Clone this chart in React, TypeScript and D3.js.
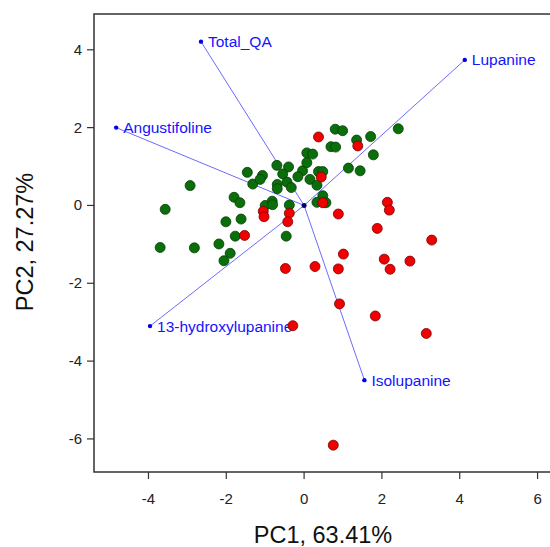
import React, { useEffect, useRef } from "react";
import * as d3 from "d3";

// PCA scores (PC1, PC2)
const greenX = [-2.93, -3.57, -1.8, -1.65, -2.01, -1.62, -1.46, -1.32, -1.07, -1.13, -0.7, -0.4, -0.55, -0.04, -0.16, 0.15, -0.69, -0.69, -0.44, -0.33, 0.33, 0.07, 0.22, 0.07, 0.37, 0.48, 0.48, 0.33, 0.56, -1.0, -0.82, -0.81, -0.38, -0.46, -1.77, -3.7, -2.82, -2.19, -1.9, -2.06, 0.8, 0.99, 1.35, 1.71, 2.42, 0.69, 0.81, 1.78, 1.14, 1.44];
const greenY = [0.51, -0.1, 0.21, 0.07, -0.42, -0.35, 0.85, 0.55, 0.77, 0.67, 1.03, 0.99, 0.81, 0.89, 0.74, 0.67, 0.54, 0.43, 0.6, 0.46, 0.52, 1.35, 1.32, 1.1, 0.87, 0.87, 0.25, 0.08, 0.07, 0.0, 0.11, 0.02, 0.01, -0.79, -0.79, -1.08, -1.09, -0.99, -1.23, -1.42, 1.96, 1.92, 1.68, 1.77, 1.97, 1.51, 1.5, 1.3, 0.96, 0.89];

const redX = [0.37, 1.38, 0.44, 0.48, -1.05, -1.03, -0.38, -0.42, -1.53, 0.88, 2.14, 2.19, 1.88, 3.28, 1.01, 2.06, 2.72, 2.21, -0.48, 0.28, 0.88, 0.91, 1.83, 3.14, -0.29, 0.75];
const redY = [1.76, 1.53, 0.73, 0.07, -0.15, -0.29, -0.2, -0.42, -0.77, -0.22, 0.08, -0.12, -0.59, -0.89, -1.25, -1.38, -1.43, -1.64, -1.62, -1.57, -1.63, -2.53, -2.84, -3.29, -3.09, -6.16];

// loadings (scaled)
const varNames = ["Total_QA", "Angustifoline", "Lupanine", "13-hydroxylupanine", "Isolupanine"];
const varX = [-2.65, -4.83, 4.13, -3.96, 1.55];
const varY = [4.21, 2.0, 3.74, -3.1, -4.49];

const xTicks = [-4, -2, 0, 2, 4, 6];
const yTicks = [-6, -4, -2, 0, 2, 4];

export default function App() {
  const ref = useRef<SVGSVGElement>(null);

  useEffect(() => {
    document.body.style.margin = "0";
    const svg = d3.select(ref.current);
    svg.selectAll("*").remove();

    const w = 550, h = 547;
    const left = 94, top = 14, bottom = 472, right = 550;
    const font = "Liberation Sans, Arial, sans-serif";

    svg.attr("width", w).attr("height", h);

    const x = d3.scaleLinear().domain([-5.4, 6.32]).range([left, right]);
    const y = d3.scaleLinear().domain([-6.85, 4.92]).range([bottom, top]);

    const g = svg.append("g");

    // loading lines and labels (under the points)
    varNames.forEach((name, i) => {
      g.append("line")
        .attr("x1", x(0)).attr("y1", y(0))
        .attr("x2", x(varX[i])).attr("y2", y(varY[i]))
        .attr("stroke", "#6b6bff")
        .attr("stroke-width", 1);
      g.append("circle")
        .attr("cx", x(varX[i])).attr("cy", y(varY[i]))
        .attr("r", 2.2)
        .attr("fill", "#0000ee");
      g.append("text")
        .attr("x", x(varX[i]) + 7)
        .attr("y", y(varY[i]) + 5.5)
        .attr("font-family", font)
        .attr("font-size", 15.5)
        .attr("fill", "#1414ff")
        .text(name);
    });

    const greens = greenX.map((v, i) => ({ x: v, y: greenY[i] }));
    const reds = redX.map((v, i) => ({ x: v, y: redY[i] }));

    g.selectAll(".g")
      .data(greens)
      .enter()
      .append("circle")
      .attr("cx", (d) => x(d.x))
      .attr("cy", (d) => y(d.y))
      .attr("r", 5)
      .attr("fill", "#0a6e0a")
      .attr("stroke", "#063f06")
      .attr("stroke-width", 0.8);

    g.selectAll(".r")
      .data(reds)
      .enter()
      .append("circle")
      .attr("cx", (d) => x(d.x))
      .attr("cy", (d) => y(d.y))
      .attr("r", 5)
      .attr("fill", "#f20000")
      .attr("stroke", "#7a0000")
      .attr("stroke-width", 0.8);

    g.append("circle")
      .attr("cx", x(0)).attr("cy", y(0))
      .attr("r", 2.5)
      .attr("fill", "#000066");

    // frame
    const axisColor = "#333";
    svg.append("path")
      .attr("d", `M${right},${top}H${left}V${bottom}H${right}`)
      .attr("fill", "none")
      .attr("stroke", axisColor)
      .attr("stroke-width", 1.5);

    xTicks.forEach((t) => {
      svg.append("line")
        .attr("x1", x(t)).attr("x2", x(t))
        .attr("y1", bottom).attr("y2", bottom + 7)
        .attr("stroke", axisColor).attr("stroke-width", 1.2);
      svg.append("text")
        .attr("x", x(t)).attr("y", bottom + 32)
        .attr("text-anchor", "middle")
        .attr("font-family", font).attr("font-size", 15)
        .attr("fill", "#222")
        .text(t);
    });

    yTicks.forEach((t) => {
      svg.append("line")
        .attr("x1", left - 7).attr("x2", left)
        .attr("y1", y(t)).attr("y2", y(t))
        .attr("stroke", axisColor).attr("stroke-width", 1.2);
      svg.append("text")
        .attr("x", left - 12).attr("y", y(t) + 5)
        .attr("text-anchor", "end")
        .attr("font-family", font).attr("font-size", 15)
        .attr("fill", "#222")
        .text(t);
    });

    svg.append("text")
      .attr("x", 323).attr("y", 543)
      .attr("text-anchor", "middle")
      .attr("font-family", font).attr("font-size", 23.5)
      .attr("fill", "#111")
      .text("PC1, 63.41%");

    svg.append("text")
      .attr("transform", `translate(33,242) rotate(-90)`)
      .attr("text-anchor", "middle")
      .attr("font-family", font).attr("font-size", 23.5)
      .attr("fill", "#111")
      .text("PC2, 27.27%");
  }, []);

  return <svg ref={ref} style={{ display: "block" }}></svg>;
}
